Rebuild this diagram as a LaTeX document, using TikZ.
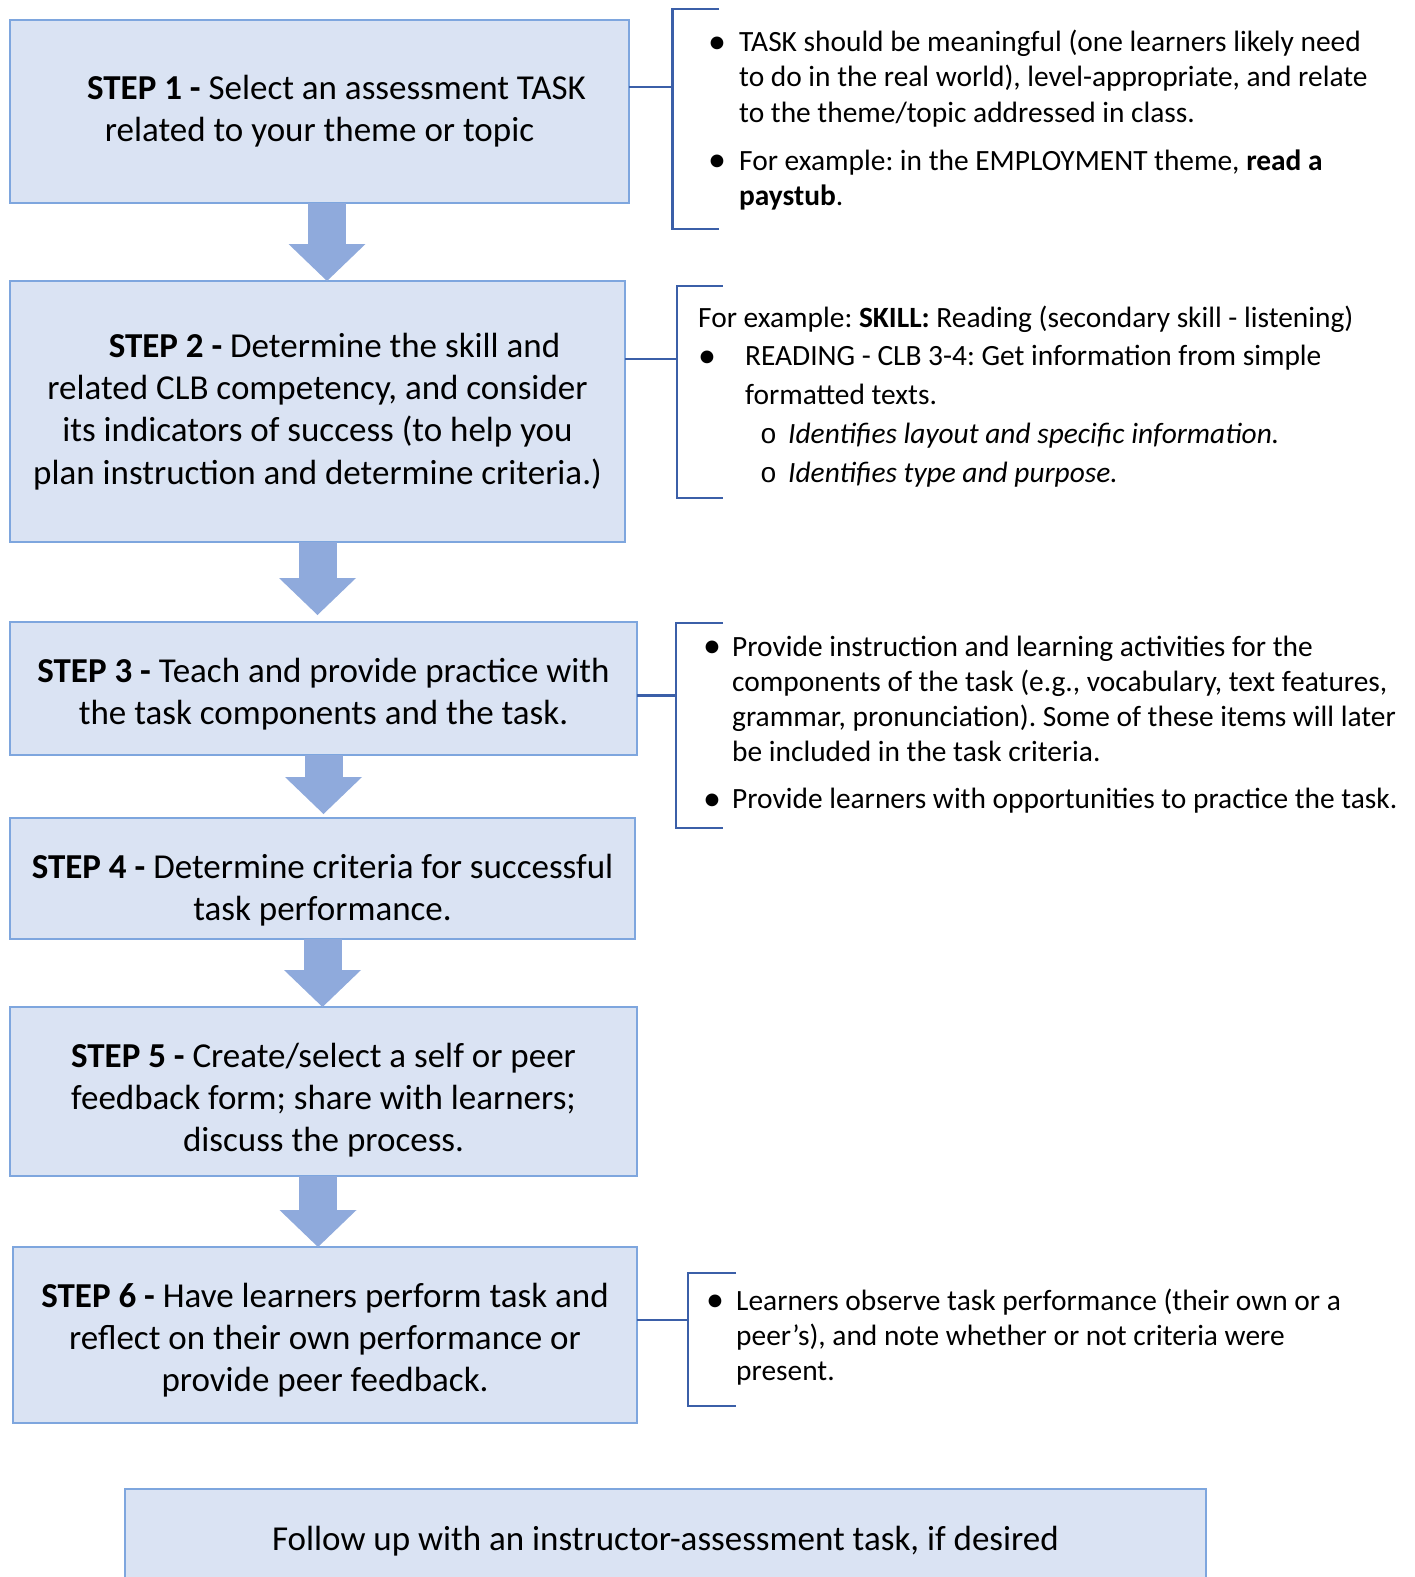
\documentclass[tikz,border=0pt]{standalone}
\usepackage{fontspec}
\setmainfont{Carlito}
\newfontfamily\circfont{Liberation Mono}
\usetikzlibrary{positioning,arrows.meta}
\frenchspacing

\definecolor{boxfill}{HTML}{DAE3F3}
\definecolor{boxline}{HTML}{7EA6DE}
\definecolor{arrowfill}{HTML}{8FAADC}
\definecolor{brkline}{HTML}{3B5FA8}

\newcommand{\stepfont}{\fontsize{35}{42.2}\selectfont}
\newcommand{\notefont}{\fontsize{29.4}{35.2}\selectfont}
\newcommand{\bul}[1]{\makebox[#1][l]{\raisebox{-1.5pt}{\fontsize{36}{36}\selectfont\textbullet}}}
\newcommand{\subbul}{\hspace*{62pt}\makebox[28pt][l]{\circfont\fontsize{28}{28}\selectfont o}}

\begin{document}
\begin{tikzpicture}[x=1pt, y=-1pt, font=\stepfont,
  stepbox/.style={draw=boxline, fill=boxfill, line width=1.5pt, align=center, inner sep=0pt, outer sep=0pt},
  blk/.style={draw=arrowfill, line width=38pt, -{Triangle[width=77pt, length=37pt, line width=0pt]}},
  brk/.style={draw=brkline, line width=2.5pt},
  note/.style={font=\notefont, align=left, inner sep=0pt, anchor=north west}]
\useasboundingbox (0,0) rectangle (1414,1577);

% steps
\node[stepbox, minimum width=619, minimum height=183, anchor=north west] (s1) at (10,20)
  {\hspace*{34pt}\textbf{STEP 1 -} Select an assessment TASK\\related to your theme or topic};
\node[stepbox, minimum width=615, minimum height=261, below=78pt of s1.south west, anchor=north west] (s2)
  {\hspace*{34pt}\textbf{STEP 2 -} Determine the skill and\\related CLB competency, and consider\\its indicators of success (to help you\\plan instruction and determine criteria.)};
\node[stepbox, minimum width=627, minimum height=133, below=80pt of s2.south west, anchor=north west] (s3)
  {\rule{0pt}{36pt}\textbf{STEP 3 -} Teach and provide practice with\\the task components and the task.};
\node[stepbox, minimum width=625, minimum height=121, below=63pt of s3.south west, anchor=north west] (s4)
  {\rule{0pt}{48pt}\textbf{STEP 4 -} Determine criteria for successful\\task performance.};
\node[stepbox, minimum width=627, minimum height=169, below=68pt of s4.south west, anchor=north west] (s5)
  {\rule{0pt}{42pt}\textbf{STEP 5 -} Create/select a self or peer\\feedback form; share with learners;\\discuss the process.};
\node[stepbox, minimum width=624, minimum height=176, below=71pt of s5.south west, anchor=north west, xshift=3pt] (s6)
  {\rule{0pt}{35pt}\textbf{STEP 6 -} Have learners perform task and\\reflect on their own performance or\\provide peer feedback.};
\node[stepbox, minimum width=1081, minimum height=98, below=66pt of s6.south west, anchor=north west, xshift=112pt] (s7)
  {\rule{0pt}{30pt}Follow up with an instructor-assessment task, if desired};

\draw[blk] ([xshift=7.5pt]s1.south) -- ([xshift=7.5pt]s1.south |- s2.north);
\draw[blk, shorten >=7pt] (s2.south) -- (s2.south |- s3.north);
\draw[blk, shorten >=4pt] (s3.south) -- (s3.south |- s4.north);
\draw[blk] (s4.south) -- (s4.south |- s5.north);
\draw[blk] ([xshift=-5.5pt]s5.south) -- ([xshift=-5.5pt]s5.south |- s6.north);

% side notes
\coordinate (k1) at (672.5,87);
\draw[brk] (s1.east |- k1) -- (k1);
\draw[brk] (719,9) -- (672.5,9) -- (672.5,229) -- (719,229);
\node[note] (n1) at (708,30)
  {\bul{31pt}TASK should be meaningful (one learners likely need\\
   \hspace*{31pt}to do in the real world), level-appropriate, and relate\\
   \hspace*{31pt}to the theme/topic addressed in class.\\[13pt]
   \bul{31pt}For example: in the EMPLOYMENT theme, \textbf{read a}\\
   \hspace*{31pt}\textbf{paystub}.};

\coordinate (k2) at (677,359);
\draw[brk] (s2.east |- k2) -- (k2);
\draw[brk] (722.5,286) -- (677,286) -- (677,498) -- (722.5,498);
\node[note, font=\fontsize{29.4}{38.7}\selectfont] (n2) at (698,305.5)
  {For example: \textbf{SKILL:} Reading (secondary skill - listening)\\
   \bul{47pt}READING - CLB 3-4: Get information from simple\\
   \hspace*{47pt}formatted texts.\\
   \subbul\textit{Identifies layout and specific information.}\\
   \subbul\textit{Identifies type and purpose.}};

\coordinate (k3) at (676,695.5);
\draw[brk] (s3.east |- k3) -- (k3);
\draw[brk] (723,623) -- (676,623) -- (676,828) -- (723,828);
\node[note] (n3) at (703,635.5)
  {\bul{29pt}Provide instruction and learning activities for the\\
   \hspace*{29pt}components of the task (e.g., vocabulary, text features,\\
   \hspace*{29pt}grammar, pronunciation). Some of these items will later\\
   \hspace*{29pt}be included in the task criteria.\\[12pt]
   \bul{29pt}Provide learners with opportunities to practice the task.};

\coordinate (k6) at (688,1320);
\draw[brk] (s6.east |- k6) -- (k6);
\draw[brk] (736,1273) -- (688,1273) -- (688,1406) -- (736,1406);
\node[note] (n6) at (706,1288.5)
  {\bul{30pt}Learners observe task performance (their own or a\\
   \hspace*{30pt}peer’s), and note whether or not criteria were\\
   \hspace*{30pt}present.};
\end{tikzpicture}
\end{document}
